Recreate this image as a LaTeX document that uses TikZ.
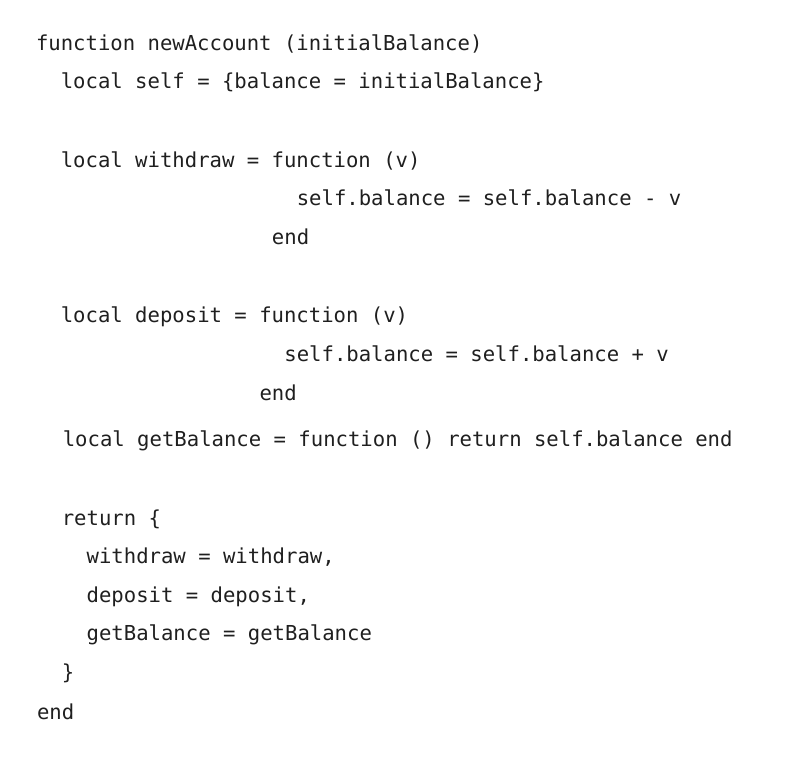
\documentclass[tikz,border=0pt]{standalone}
\usepackage{fontspec}
\setmonofont{DejaVu Sans Mono}
\usepackage{tikz}
\usetikzlibrary{positioning}

\begin{document}
\begin{tikzpicture}[x=1pt,y=-1pt,
  code/.style={anchor=base west,inner sep=0pt,outer sep=0pt,text=black!88,
    font=\ttfamily\fontsize{20.6}{24}\selectfont}]
\def\cw{12.42}
\def\xo{36}
  \useasboundingbox (0,0) rectangle (799,763);
  \node[code] (fn) at (\xo,50) {function newAccount (initialBalance)};
  \node[code] (selfdef) at ({\xo+2*\cw},88) {local self = \{balance = initialBalance\}};
  % withdraw
  \node[code] (wdef) at ({\xo+2*\cw},167) {local withdraw = function (v)};
  \node[code] (wbody) at ({\xo+21*\cw},205) {self.balance = self.balance - v};
  \node[code] (wend) at ({\xo+19*\cw},244) {end};
  % deposit
  \node[code] (ddef) at ({\xo+2*\cw},322) {local deposit = function (v)};
  \node[code] (dbody) at ({\xo+20*\cw},361) {self.balance = self.balance + v};
  \node[code] (dend) at ({\xo+18*\cw},400) {end};
  \node[code] (gdef) at ({\xo+2*\cw+2},446) {local getBalance = function () return self.balance end};
  % return table
  \node[code] (ret) at ({\xo+2*\cw+1},525) {return \{};
  \node[code] (rw) at ({\xo+4*\cw+1},563.5) {withdraw = withdraw,};
  \node[code] (rd) at ({\xo+4*\cw+1},602) {deposit = deposit,};
  \node[code] (rg) at ({\xo+4*\cw+1},640.5) {getBalance = getBalance};
  \node[code] (rclose) at ({\xo+2*\cw+1},679) {\}};
  \node[code] (fend) at (\xo+1,719) {end};
\end{tikzpicture}
\end{document}
